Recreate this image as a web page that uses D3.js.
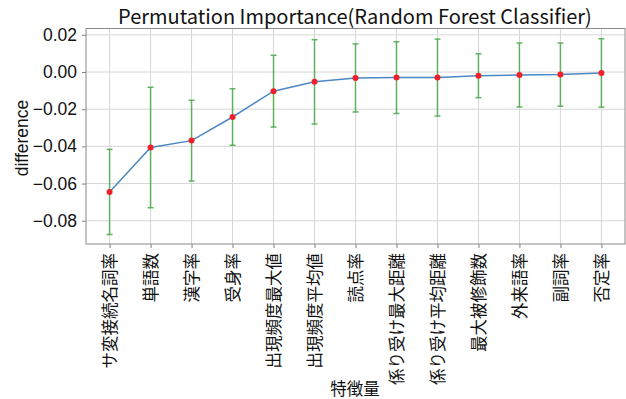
<!DOCTYPE html>
<html><head><meta charset="utf-8">
<script src="https://cdn.jsdelivr.net/npm/d3@7"></script>
<style>body{margin:0;background:#fff}svg{display:block}</style>
</head><body>
<script>
const features = ["サ変接続名詞率","単語数","漢字率","受身率","出現頻度最大値","出現頻度平均値","読点率","係り受け最大距離","係り受け平均距離","最大被修飾数","外来語率","副詞率","否定率"];
const meanDiff = [-0.0645,-0.0406,-0.0369,-0.0242,-0.0103,-0.0053,-0.0032,-0.0030,-0.0030,-0.0020,-0.0016,-0.0014,-0.0005];
const stdDiff = [0.0229,0.0324,0.0217,0.0152,0.0193,0.0227,0.0183,0.0193,0.0207,0.0118,0.0172,0.0170,0.0184];
const yTicks = [0.02,0.00,-0.02,-0.04,-0.06,-0.08];

const W=626,H=399;
const m={l:86,r:625,t:28.5,b:244};
const svg=d3.select("body").append("svg").attr("width",W).attr("height",H);
const x=d3.scalePoint().domain(features).range([85,626]).padding(0.6);
const y=d3.scaleLinear().domain([-0.0925,0.0234]).range([m.b,m.t]);
const fmt=d3.format(".2f");

// grid
svg.append("g").selectAll("line").data(yTicks).join("line")
  .attr("x1",m.l).attr("x2",m.r).attr("y1",d=>y(d)).attr("y2",d=>y(d))
  .attr("stroke","#d6d6d6").attr("stroke-width",1);
svg.append("g").selectAll("line").data(features).join("line")
  .attr("x1",d=>x(d)).attr("x2",d=>x(d)).attr("y1",m.t).attr("y2",m.b)
  .attr("stroke","#d6d6d6").attr("stroke-width",1);

// axes
const ya=svg.append("g").attr("transform",`translate(${m.l},0)`)
  .call(d3.axisLeft(y).tickValues(yTicks).tickFormat(fmt).tickSize(4).tickPadding(5));
ya.select(".domain").remove();
ya.selectAll("line").attr("stroke","#808080");
ya.selectAll("text").attr("font-family","'Liberation Sans',Arial,sans-serif").attr("font-size",17.5).attr("fill","#111");

const xa=svg.append("g").attr("transform",`translate(0,${m.b})`)
  .call(d3.axisBottom(x).tickSize(4).tickPadding(5));
xa.select(".domain").remove();
xa.selectAll("line").attr("stroke","#808080");
xa.selectAll("text").attr("font-family","'Noto Sans CJK JP',sans-serif").attr("font-size",16.5).attr("fill","#111")
  .attr("transform","rotate(-90)").attr("text-anchor","end").attr("dy","0.35em").attr("x",-9).attr("y",0);

// frame
svg.append("rect").attr("x",m.l).attr("y",m.t).attr("width",m.r-m.l).attr("height",m.b-m.t)
  .attr("fill","none").attr("stroke","#8a8a8a").attr("stroke-width",1);

// error bars
const eb=svg.append("g").attr("stroke","#4aa84a").attr("stroke-opacity",0.85).attr("stroke-width",1.5);
features.forEach((f,i)=>{
  const cx=x(f), lo=y(meanDiff[i]-stdDiff[i]), hi=y(meanDiff[i]+stdDiff[i]);
  eb.append("line").attr("x1",cx).attr("x2",cx).attr("y1",lo).attr("y2",hi);
  eb.append("line").attr("x1",cx-3).attr("x2",cx+3).attr("y1",lo).attr("y2",lo);
  eb.append("line").attr("x1",cx-3).attr("x2",cx+3).attr("y1",hi).attr("y2",hi);
});

// line
svg.append("path").datum(features.map((f,i)=>[x(f),y(meanDiff[i])]))
  .attr("d",d3.line()).attr("fill","none").attr("stroke","#4c88c4").attr("stroke-width",1.5);
svg.append("g").selectAll("circle").data(features).join("circle")
  .attr("cx",d=>x(d)).attr("cy",(d,i)=>y(meanDiff[i])).attr("r",3).attr("fill","#f0202a");

// labels
svg.append("text").attr("x",355).attr("y",24).attr("text-anchor","middle")
  .attr("font-family","'Noto Sans CJK JP',sans-serif").attr("font-size",20).attr("fill","#111")
  .text("Permutation Importance(Random Forest Classifier)");
svg.append("text").attr("transform",`translate(28,138) rotate(-90)`).attr("text-anchor","middle")
  .attr("font-family","'Liberation Sans',Arial,sans-serif").attr("font-size",17.5).attr("fill","#111")
  .text("difference");
svg.append("text").attr("x",355).attr("y",395).attr("text-anchor","middle")
  .attr("font-family","'Noto Sans CJK JP',sans-serif").attr("font-size",16.5).attr("fill","#111")
  .text("特徴量");
</script>
</body></html>
